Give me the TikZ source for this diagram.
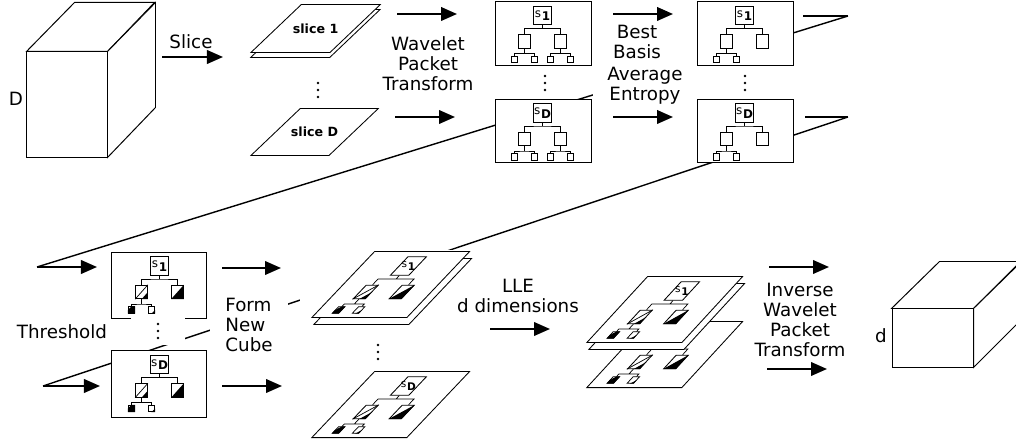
\documentclass[tikz,border=0pt]{standalone}
\usepackage{fontspec}
\setmainfont{DejaVu Sans}
\usetikzlibrary{arrows.meta, calc}
\tikzstyle{arrow}     = [-{Triangle[length=4mm, width=3.4mm]}, line width=1.4pt]
\tikzstyle{zline}     = [line width=1pt]
\tikzstyle{stub}      = [line width=1.4pt]
\tikzstyle{cubeface}  = [draw, fill=white, line width=0.7pt, inner sep=0pt]
\tikzstyle{box}       = [rectangle, draw, fill=white, line width=0.7pt, inner sep=0pt,
                         minimum width=24mm, minimum height=15.75mm]
\tikzstyle{tbox}      = [box, minimum width=23.5mm, minimum height=16.5mm]
\tikzstyle{sheet}     = [draw, fill=white, line width=0.6pt, inner sep=0pt, anchor=south west]
\tikzstyle{sheetsize} = [minimum width=23.75mm, minimum height=16.5mm]
\tikzstyle{cover}     = [fill=white, inner sep=0pt]
\tikzstyle{txt}       = [align=center, inner sep=1pt, font=\fontsize{13}{14.2}\selectfont]
\tikzstyle{smalltxt}  = [inner sep=0pt, font=\fontsize{9}{10}\selectfont\bfseries]
\tikzstyle{vdot}      = [circle, fill, inner sep=0pt, minimum size=0.7mm]
\tikzstyle{rootbox}   = [draw, fill=white, line width=0.6pt, minimum size=4.6mm, inner sep=0pt,
                         font=\fontsize{8.5}{8.5}\selectfont]
\tikzstyle{rootlab}   = [inner sep=0pt, font=\fontsize{7.5}{7.5}\selectfont]
\tikzstyle{kid}       = [draw, fill=white, line width=0.6pt, minimum width=3mm,
                         minimum height=3.4mm, inner sep=0pt]
\tikzstyle{leaf}      = [draw, fill=white, line width=0.5pt, minimum size=1.6mm, inner sep=0pt]
\tikzstyle{twig}      = [line width=0.5pt]

\newcommand{\slab}[1]{s\kern0.6pt\raisebox{-2.5pt}{\bfseries #1}}
\newcommand{\dotcol}[3]{\foreach \k in {-1,0,1} \node[vdot] (#1\k) at (#2,#3+7*\k) {};}
\newcommand{\treetop}[1]{%
  \node[rootbox] (-r) at (48,14) {#1};
  \node[kid] (-a) at (30,40) {};
  \node[kid] (-b) at (66,40) {};
  \draw[twig] (-r.south) -- (48,27) (-a.north) |- (48,27) -| (-b.north);}
\newcommand{\twoleaves}[2]{%
  \node[leaf] (-#1l) at (#2-10,58) {};
  \node[leaf] (-#1r) at (#2+10,58) {};
  \draw[twig] (-#1.south) -- (#2,52) (-#1l.north) |- (#2,52) -| (-#1r.north);}
\tikzset{
  pics/fulltree/.style={code={\treetop{#1}\twoleaves{a}{30}\twoleaves{b}{66}}},
  pics/besttree/.style={code={\treetop{#1}\twoleaves{a}{30}}},
  pics/cuttree/.style={code={\treetop{#1}\twoleaves{a}{30}
    \draw[twig] (-a.north east) -- (-a.south west);
    \fill (-a.east) -- (-a.south east) -- (-a.south) -- cycle;
    \fill (-b.north east) -- (-b.south east) -- (-b.south west) -- cycle;
    \fill (-al.north east) -- (-al.south east) -- (-al.south west) -- (-al.west) -- (-al.north) -- cycle;
    \fill (-ar.east) -- (-ar.south east) -- (-ar.south) -- cycle;}},
}

\begin{document}
\begin{tikzpicture}[x=0.025cm, y=-0.025cm]
  \useasboundingbox (0,0) rectangle (1016,444);
  \clip (0,0) rectangle (1016,444);

  % Return lines (behind everything)
  \coordinate (z1a) at (803,16);
  \coordinate (z1b) at (848,16);
  \coordinate (z1c) at (37,267);
  \coordinate (z1d) at (97,267);
  \coordinate (z2a) at (805,117);
  \coordinate (z2b) at (848,117);
  \coordinate (z2c) at (43,386);
  \coordinate (z2d) at (100,386);
  \draw[stub] (z1a) -- (z1b);
  \draw[zline] (z1b) -- (z1c);
  \draw[stub] (z2a) -- (z2b);
  \draw[zline] (z2b) -- (z2c);

  % Input cube
  \node[cubeface, minimum width=20mm, minimum height=26.25mm] (cubeD) at (67,104.5) {};
  \draw[cubeface] (cubeD.north west) -- ++(48,-49) -- ++(80,0) -- (cubeD.north east) -- cycle;
  \draw[cubeface] (cubeD.north east) -- ++(48,-49) -- ++(0,105) -- (cubeD.south east) -- cycle;
  \node[txt] (labD) at (16,99) {D};
  \node[txt] (slicelab) at (191,42) {Slice};

  % Slices
  \begin{scope}[shift={(250,53)}, xslant=1.05, transform shape]
    \node[sheet, minimum width=19.75mm, minimum height=12mm] (slice1s) at (5,5) {};
    \node[sheet, minimum width=19.75mm, minimum height=12mm] (slice1) at (0,0) {};
  \end{scope}
  \begin{scope}[shift={(250,156)}, xslant=1.05, transform shape]
    \node[sheet, minimum width=19.5mm, minimum height=11.75mm] (sliceD) at (0,0) {};
  \end{scope}
  \node[smalltxt] (t1) at (slice1) {slice 1};
  \node[smalltxt] (tD) at (sliceD) {slice D};
  \dotcol{dS}{318}{90}
  \node[txt] (wpt) at (428,64) {Wavelet\\Packet\\Transform};

  % Wavelet packet trees
  \node[box] (wp1) at (543,33.5) {};
  \pic (wt1) at (wp1.north west) {fulltree=\slab{1}};
  \node[box] (wpD) at (543,131) {};
  \pic (wtD) at (wpD.north west) {fulltree=\slab{D}};
  \dotcol{dW}{545}{83}
  \node[txt, fill=white] (bbas) at (637,42) {Best\\Basis};
  \node[txt, fill=white, minimum width=26mm, inner ysep=4pt] (aent) at (645,86) {Average\\Entropy};

  % Best basis trees
  \node[box] (bb1) at (745,33.5) {};
  \pic (bt1) at (bb1.north west) {besttree=\slab{1}};
  \node[box] (bbD) at (745,131) {};
  \pic (btD) at (bbD.north west) {besttree=\slab{D}};
  \dotcol{dB}{745}{83}

  % Thresholded trees
  \node[txt] (thr) at (62,332) {Threshold};
  \node[tbox] (th1) at (159,285.5) {};
  \pic (tt1) at (th1.north west) {cuttree=\slab{1}};
  \node[tbox] (thD) at (159,384) {};
  \pic (ttD) at (thD.north west) {cuttree=\slab{D}};
  \node[cover, minimum width=13.5mm, minimum height=7mm] (gapT) at (158,331) {};
  \dotcol{dT}{158}{331}
  \node[txt, fill=white, align=left, minimum width=19.5mm] (fnc) at (249,325) {Form\\New\\Cube};

  % New cube
  \node[cover, minimum width=43.75mm, minimum height=20mm] (cube1bg) at (387.5,290) {};
  \begin{scope}[shift={(311,318)}, xslant=0.95, transform shape]
    \node[sheet, sheetsize] (cube1s) at (8.6,7) {};
    \node[sheet, sheetsize] (cube1) at (0,0) {};
    \pic (ct1) at (0,-66) {cuttree={}};
  \end{scope}
  \node[rootlab] (ct1l) at (ct1-r) {\slab{1}};
  \dotcol{dC}{378}{352}
  \begin{scope}[shift={(311,438)}, xslant=0.95, transform shape]
    \node[sheet, sheetsize] (cubeN) at (0,0) {};
    \pic (ctD) at (0,-66) {cuttree={}};
  \end{scope}
  \node[rootlab] (ctDl) at (ctD-r) {\slab{D}};
  \node[txt] (lle) at (518,296) {LLE\\d dimensions};

  % Reduced cube
  \begin{scope}[shift={(586,388)}, xslant=0.92, transform shape]
    \node[sheet, sheetsize] (red2) at (0,0) {};
    \pic (rt2) at (0,-66) {cuttree={}};
  \end{scope}
  \begin{scope}[shift={(586,343)}, xslant=0.92, transform shape]
    \node[sheet, sheetsize] (red1s) at (8.4,7) {};
    \node[sheet, sheetsize] (red1) at (0,0) {};
    \pic (rt1) at (0,-66) {cuttree={}};
  \end{scope}
  \node[rootlab] (rt1l) at (rt1-r) {\slab{1}};
  \node[txt] (iwpt) at (800,320) {Inverse\\Wavelet\\Packet\\Transform};

  % Output cube
  \node[cubeface, minimum width=20.25mm, minimum height=14.5mm] (cubed) at (932.5,338) {};
  \draw[cubeface] (cubed.north west) -- ++(48,-47) -- ++(81,0) -- (cubed.north east) -- cycle;
  \draw[cubeface] (cubed.north east) -- ++(48,-47) -- ++(0,58) -- (cubed.south east) -- cycle;
  \node[txt] (labd) at (881,336) {d};

  % Arrows
  \foreach \n/\x/\y in {s0/162/57, s1/223/57, w0/397/14, w1/457/14, w2/395/117, w3/455/117,
      b0/613/14, b1/673/14, b2/613/117, b3/673/117, f0/222/268, f1/281/268,
      f2/222/386, f3/282/386, l0/490/329, l1/550/329, i0/769/267, i1/829/267,
      i2/767/369, i3/827/369}
    \coordinate (\n) at (\x,\y);
  \draw[arrow] (s0) -- (s1);
  \draw[arrow] (w0) -- (w1);
  \draw[arrow] (w2) -- (w3);
  \draw[arrow] (b0) -- (b1);
  \draw[arrow] (b2) -- (b3);
  \draw[arrow] (z1c) -- (z1d);
  \draw[arrow] (z2c) -- (z2d);
  \draw[arrow] (f0) -- (f1);
  \draw[arrow] (f2) -- (f3);
  \draw[arrow] (l0) -- (l1);
  \draw[arrow] (i0) -- (i1);
  \draw[arrow] (i2) -- (i3);
\end{tikzpicture}
\end{document}
